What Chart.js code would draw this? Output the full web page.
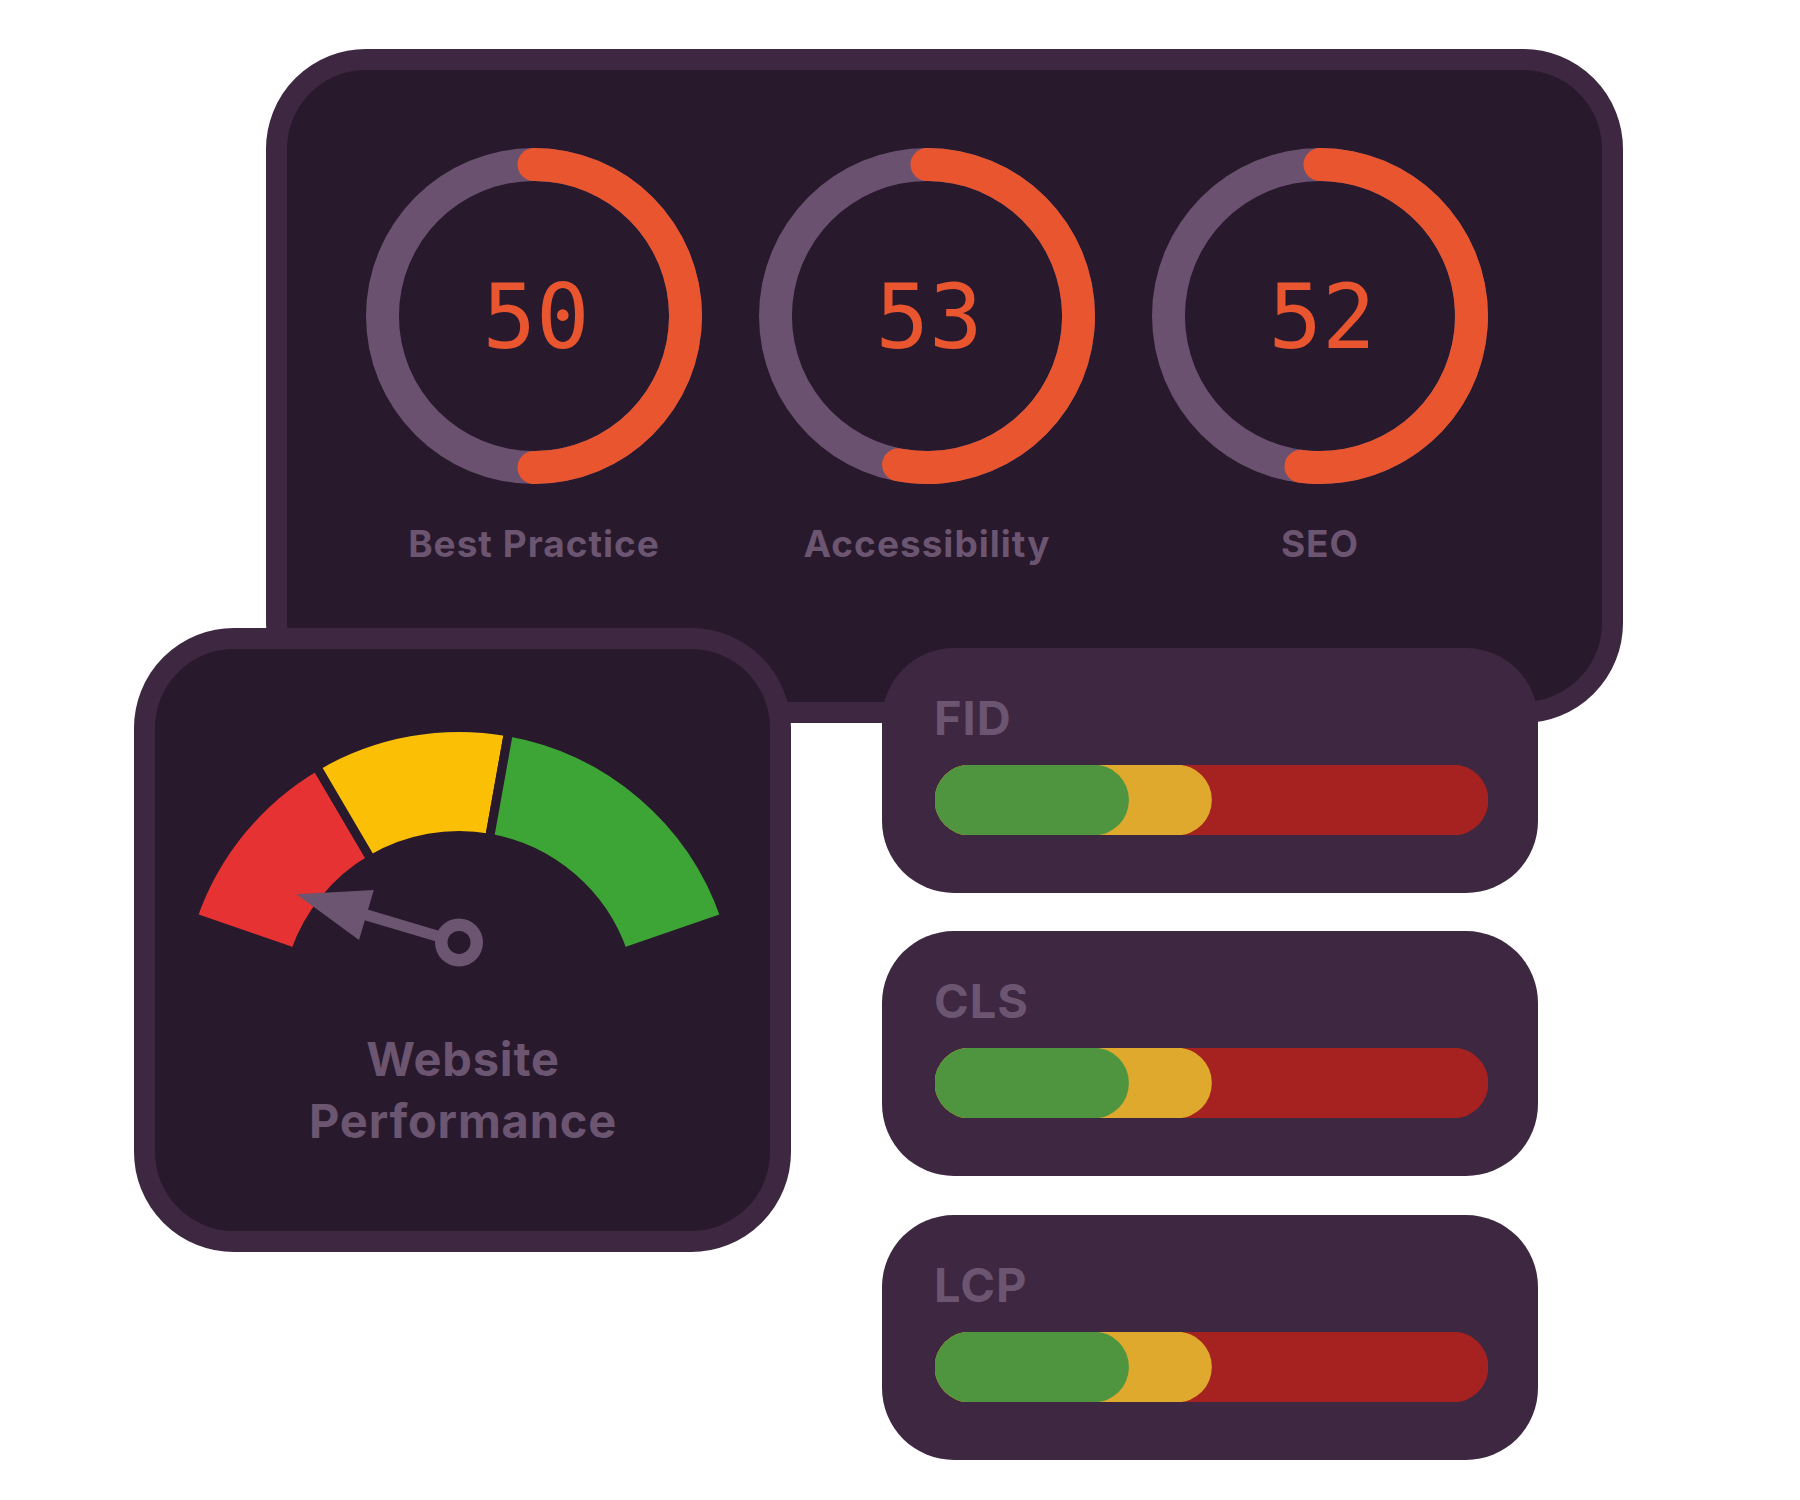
<!DOCTYPE html>
<html>
<head>
<meta charset="utf-8">
<script src="https://cdn.jsdelivr.net/npm/chart.js@4.4.1/dist/chart.umd.min.js"></script>
<style>
  body { margin: 0; background: #ffffff; }
  #stage { position: relative; width: 1800px; height: 1500px; overflow: hidden; font-family: "Inter", "Open Sans", sans-serif; }
  .box { position: absolute; box-sizing: border-box; }
  .panel-top { left: 266px; top: 49px; width: 1357px; height: 674px; border: 21px solid #3d2741; border-radius: 100px; background: #29192c; }
  .panel-gauge { left: 134px; top: 628px; width: 657px; height: 624px; border: 21px solid #3d2741; border-radius: 100px; background: #29192c; }
  .metric-card { left: 882px; width: 656px; height: 245px; border-radius: 72px; background: #3d2741; }
  canvas { position: absolute; }
  .txt { position: absolute; line-height: 1; white-space: nowrap; color: #6b5571; font-weight: 700; }
  .score { font-family: "DejaVu Sans Mono", monospace; font-weight: 400; color: #e9552f; font-size: 89px; width: 300px; text-align: center; }
  .score-label { font-size: 37px; letter-spacing: 1px; width: 400px; text-align: center; }
  .gauge-label { font-size: 47px; letter-spacing: 0.8px; width: 500px; text-align: center; }
  .metric-label { font-size: 47px; letter-spacing: 1px; }
</style>
</head>
<body>
<div id="stage">
  <div class="box panel-top"></div>
</div>
<script>
const scoreLabels = ['Best Practice', 'Accessibility', 'SEO'];
const scoreValues = [50, 53, 52];

const gaugeZoneLabels = ['Poor', 'Needs improvement', 'Good'];
const gaugeZones = [40, 40, 60];
const needleValue = 16;
const gaugeTitle = ['Website', 'Performance'];

const metricLabels = ['FID', 'CLS', 'LCP'];
const goodValues = [35, 35, 35];
const needsValues = [50, 50, 50];
const poorValues = [100, 100, 100];

const orange = '#e9552f';
const track = '#6a5170';
const muted = '#6b5571';
const panelBg = '#29192c';

const stage = document.getElementById('stage');

function el(tag, cls, css, text) {
  const e = document.createElement(tag);
  if (cls) e.className = cls;
  Object.assign(e.style, css);
  if (text != null) e.textContent = text;
  stage.appendChild(e);
  return e;
}

function canvasAt(left, top, w, h) {
  const c = el('canvas', '', { left: left + 'px', top: top + 'px' });
  c.width = w; c.height = h;
  return c;
}

const quiet = { legend: { display: false }, tooltip: { enabled: false } };

// score rings
const ringCentersX = [534, 927, 1320];
const ringY = 316;
const capDeg = 6.24;

scoreValues.forEach((v, i) => {
  const cx = ringCentersX[i];
  new Chart(canvasAt(cx - 180, ringY - 180, 360, 360), {
    type: 'doughnut',
    data: { labels: ['track'], datasets: [{ data: [100], backgroundColor: track, borderWidth: 0 }] },
    options: { responsive: false, animation: false, radius: 168, cutout: '80.4%', plugins: quiet }
  });
  new Chart(canvasAt(cx - 180, ringY - 180, 360, 360), {
    type: 'doughnut',
    data: {
      labels: [scoreLabels[i], ''],
      datasets: [{
        data: [v, 100 - v],
        backgroundColor: [orange, 'rgba(0,0,0,0)'],
        borderWidth: 0,
        borderRadius: [16.5, 0]
      }]
    },
    options: {
      responsive: false, animation: false, radius: 168, cutout: '80.4%',
      rotation: -capDeg, circumference: 360 + capDeg * 2 * 100 / v,
      plugins: quiet
    }
  });
  el('div', 'txt score', { left: (cx + 2 - 150) + 'px', top: '273px' }, String(v));
  el('div', 'txt score-label', { left: (cx - 200) + 'px', top: '525px' }, scoreLabels[i]);
});

// gauge card
el('div', 'box panel-gauge', {});

const needlePlugin = {
  id: 'needle',
  afterDatasetsDraw(chart) {
    const ctx = chart.ctx;
    const arcs = chart.getDatasetMeta(0).data;
    const first = arcs[0], last = arcs[arcs.length - 1];
    const total = gaugeZones.reduce((a, b) => a + b, 0);
    const ang = first.startAngle + (last.endAngle - first.startAngle) * needleValue / total;
    const tipX = first.x + Math.cos(ang) * 199;
    const tipY = first.y + Math.sin(ang) * 199;
    const px = first.x, py = first.y - 66.5;
    const len = Math.hypot(tipX - px, tipY - py);
    const ux = (tipX - px) / len, uy = (tipY - py) / len;
    const nx = -uy, ny = ux;
    const bx = tipX - ux * 73, by = tipY - uy * 73;
    ctx.save();
    ctx.fillStyle = muted;
    ctx.strokeStyle = muted;
    ctx.lineWidth = 11;
    ctx.beginPath();
    ctx.moveTo(px, py);
    ctx.lineTo(bx + ux * 3, by + uy * 3);
    ctx.stroke();
    ctx.beginPath();
    ctx.moveTo(tipX, tipY);
    ctx.lineTo(bx + nx * 26, by + ny * 26);
    ctx.lineTo(bx - nx * 26, by - ny * 26);
    ctx.closePath();
    ctx.fill();
    ctx.beginPath();
    ctx.arc(px, py, 24, 0, Math.PI * 2);
    ctx.fill();
    ctx.fillStyle = panelBg;
    ctx.beginPath();
    ctx.arc(px, py, 11.5, 0, Math.PI * 2);
    ctx.fill();
    ctx.restore();
  }
};

new Chart(canvasAt(159, 690, 600, 300), {
  type: 'doughnut',
  data: {
    labels: gaugeZoneLabels,
    datasets: [{
      data: gaugeZones,
      backgroundColor: ['#e63232', '#fbc005', '#3ca535'],
      borderColor: panelBg,
      borderWidth: 9,
      borderJoinStyle: 'miter'
    }]
  },
  options: {
    responsive: false, animation: false,
    rotation: -71, circumference: 142,
    radius: 281.5, cutout: '61.6%',
    plugins: quiet
  },
  plugins: [needlePlugin]
});

el('div', 'txt gauge-label', { left: (463 - 250) + 'px', top: '1035px' }, gaugeTitle[0]);
el('div', 'txt gauge-label', { left: (463 - 250) + 'px', top: '1097px' }, gaugeTitle[1]);

// metric cards
const cardTops = [648, 931, 1215];
metricLabels.forEach((name, i) => {
  const top = cardTops[i];
  el('div', 'box metric-card', { top: top + 'px' });
  el('div', 'txt metric-label', { left: '934px', top: (top + 46) + 'px' }, name);
  new Chart(canvasAt(935, top + 117, 553, 70), {
    type: 'bar',
    data: {
      labels: [name],
      datasets: [
        { label: 'Good', data: [goodValues[i]], backgroundColor: '#4f9540' },
        { label: 'Needs improvement', data: [needsValues[i]], backgroundColor: '#dea92c' },
        { label: 'Poor', data: [poorValues[i]], backgroundColor: '#a52220' }
      ]
    },
    options: {
      indexAxis: 'y', responsive: false, animation: false,
      datasets: { bar: { grouped: false, barPercentage: 1, categoryPercentage: 1, borderRadius: 35, borderSkipped: false } },
      layout: { padding: 0 },
      scales: {
        x: { min: 0, max: 100, display: false },
        y: { display: false }
      },
      plugins: quiet
    }
  });
});
</script>
</body>
</html>
